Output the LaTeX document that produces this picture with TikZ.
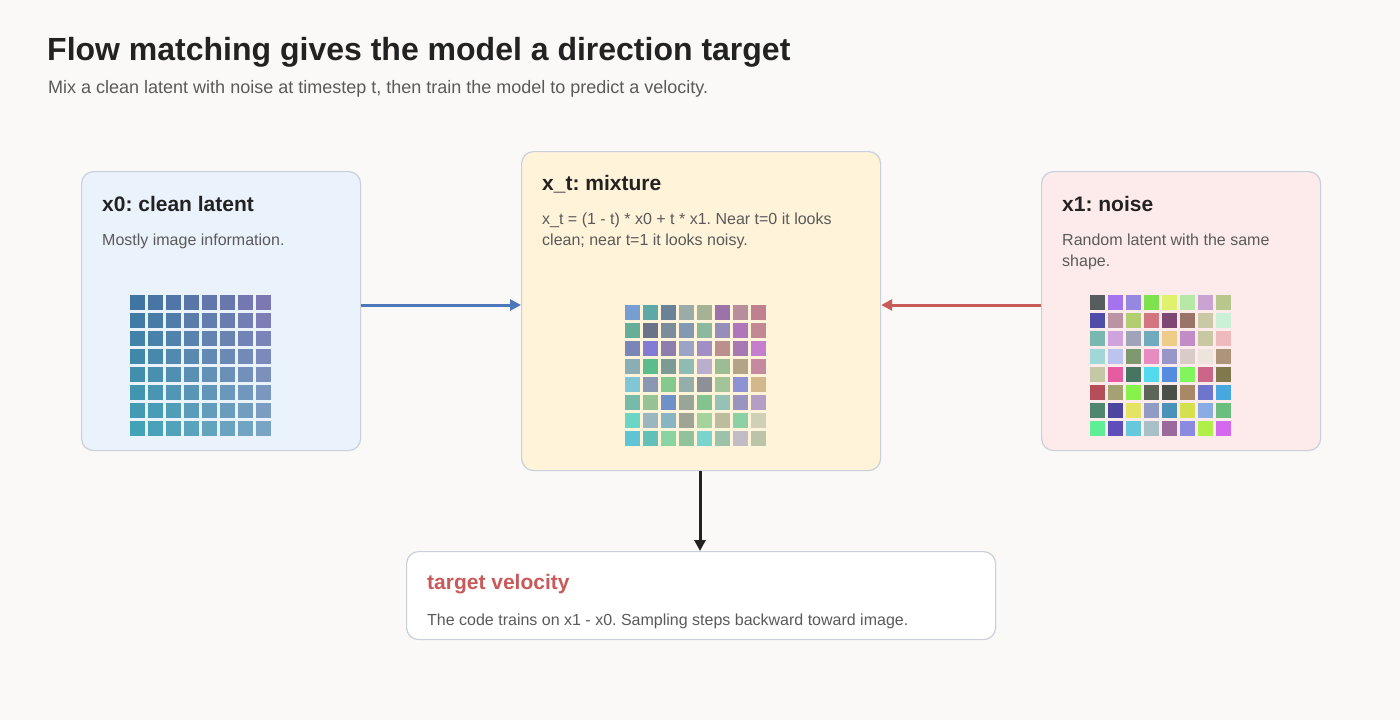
\documentclass[tikz,border=0pt]{standalone}
\usepackage{fontspec}
\setmainfont{Liberation Sans}
\usetikzlibrary{arrows.meta}
\frenchspacing
\definecolor{bgc}{HTML}{FAF9F7}
\definecolor{edgec}{HTML}{C9D0DA}
\definecolor{ink}{HTML}{222222}
\definecolor{grayt}{HTML}{5A5A5A}
\definecolor{cleanf}{HTML}{EAF2FC}
\definecolor{mixf}{HTML}{FFF3D9}
\definecolor{noisef}{HTML}{FDEBEB}
\definecolor{bluea}{HTML}{4A78B8}
\definecolor{reda}{HTML}{C85A5A}
\definecolor{cTL}{HTML}{3F75A2}
\definecolor{cTR}{HTML}{7C78B2}
\definecolor{cBL}{HTML}{42A2B6}
\definecolor{cBR}{HTML}{7AA4C4}
\begin{document}
\begin{tikzpicture}[x=1pt,y=-1pt,
  card/.style={draw=edgec,line width=1.2pt,rounded corners=12pt,anchor=north west,inner sep=0pt},
  head/.style={anchor=west,inner sep=0pt,font=\bfseries\fontsize{21}{25}\selectfont,text=ink},
  desc/.style={anchor=north west,inner sep=0pt,align=left,font=\fontsize{16}{21}\selectfont,text=grayt},
  flow/.style={line width=3pt,-{Triangle[length=11pt,width=11pt]}}]
\useasboundingbox[fill=bgc] (0,0) rectangle (1400,720);
\def\cell{15}
% title
\node[anchor=west,inner sep=0pt,font=\bfseries\fontsize{32}{38}\selectfont,text=ink] (title) at (47,52) {Flow matching gives the model a direction target};
\node[anchor=west,inner sep=0pt,font=\fontsize{18}{22}\selectfont,text=grayt] (sub) at (48,89) {Mix a clean latent with noise at timestep t, then train the model to predict a velocity.};

% cards
\node[card,fill=cleanf,minimum width=279pt,minimum height=279pt] (clean) at (81,171) {};
\node[card,fill=mixf,minimum width=359pt,minimum height=319pt] (mix) at (521,151) {};
\node[card,fill=noisef,minimum width=279pt,minimum height=279pt] (noise) at (1041,171) {};
\node[card,fill=white,minimum width=589pt,minimum height=88pt] (target) at (406,551) {};

\node[head] (cleanh) at (102,204) {x0: clean latent};
\node[desc] (cleand) at (102,234) {Mostly image information.};
\node[head] (mixh) at (542,184) {x\_t: mixture};
\node[desc] (mixd) at (542,213) {x\_t = (1 - t) * x0 + t * x1. Near t=0 it looks\\clean; near t=1 it looks noisy.};
\node[head] (noiseh) at (1062,204) {x1: noise};
\node[desc] (noised) at (1062,234) {Random latent with the same\\shape.};
\node[head,text=reda] (targeth) at (427,584) {target velocity};
\node[desc] (targetd) at (427,614) {The code trains on x1 - x0. Sampling steps backward toward image.};

% clean grid (smooth gradient)
\foreach \r in {0,...,7}
  \foreach \c in {0,...,7} {
    \pgfmathtruncatemacro\p{\c/7*100}
    \pgfmathtruncatemacro\q{\r/7*100}
    \colorlet{rowtop}{cTR!\p!cTL}
    \colorlet{rowbot}{cBR!\p!cBL}
    \colorlet{cc}{rowbot!\q!rowtop}
    \fill[cc] (130+18*\c,295+18*\r) rectangle ++(\cell,\cell);
  }

% mixture grid
\foreach \h [count=\i from 0] in {779ED0,5FA8A8,6A8298,9BABA8,A6B294,9D72A8,B98E9C,BF818F,
  66AE98,6B7388,7B8C9A,8398B2,8CB89E,968EB8,AF77BA,C28894,
  7A86B8,837CD4,8D7EAE,9CA4C6,A08EC4,BB8F8E,A679B4,C47ECC,
  8AAEB4,5CBC8C,7C9A96,8EBCB2,B9AECE,9CBC94,B3A488,C68AA0,
  80C6D4,8A98B4,84CA8E,94AEAC,8E9098,A2C498,8C92D4,D3B88C,
  76BAA8,96C296,6E92C8,98A698,84C290,96C2B6,9A94C0,B49EC4,
  6CD6C4,9CB6C0,88B4C4,A0A494,A4D49C,BDBC9C,8CD0A4,CFD0B4,
  60C4D4,62C0B8,8AD4A4,92C29C,78D4CC,9CC2AC,C1BCC6,BBC4A8} {
  \definecolor{cc}{HTML}{\h}
  \pgfmathtruncatemacro\c{mod(\i,8)}
  \pgfmathtruncatemacro\r{int(\i/8)}
  \fill[cc] (625+18*\c,305+18*\r) rectangle ++(\cell,\cell);
}

% noise grid
\foreach \h [count=\i from 0] in {555E5C,A473F0,9688E0,7DE24E,DEF26E,B6E8A8,C9A4D2,B8C78C,
  4F4DA8,BB94A4,B2CE70,D47680,7E4872,9A7468,CAC9A6,CBF0D6,
  78B8B0,CFA4DE,A0A4B8,70AABC,EECC8A,C28CC6,C8C8A2,EEBABE,
  A0D8D8,BAC4EE,7E9870,E68CC0,9896C8,D8CBC8,EDE4DE,AE947A,
  C4C8A4,E65CA0,467662,54DAEE,548CE0,80F65C,CC6688,82784E,
  B44E58,A4A272,86F24A,5C6658,4A5048,A88866,6E76CC,46A8DE,
  4E8670,4C46A0,E4E464,909CC4,4A92B8,D4E04E,8AACE4,6ABE7E,
  5EEE96,5E4EBA,66C8DA,AAC0C8,9A6A9C,8A8AE0,B0EE48,D468EE} {
  \definecolor{cc}{HTML}{\h}
  \pgfmathtruncatemacro\c{mod(\i,8)}
  \pgfmathtruncatemacro\r{int(\i/8)}
  \fill[cc] (1090+18*\c,295+18*\r) rectangle ++(\cell,\cell);
}

% arrows
\draw[flow,bluea] (clean.east |- 0,305) -- (mix.west |- 0,305);
\draw[flow,reda] (noise.west |- 0,305) -- (mix.east |- 0,305);
\draw[flow,ink] (mix.south -| 700,0) -- (target.north -| 700,0);
\end{tikzpicture}
\end{document}
